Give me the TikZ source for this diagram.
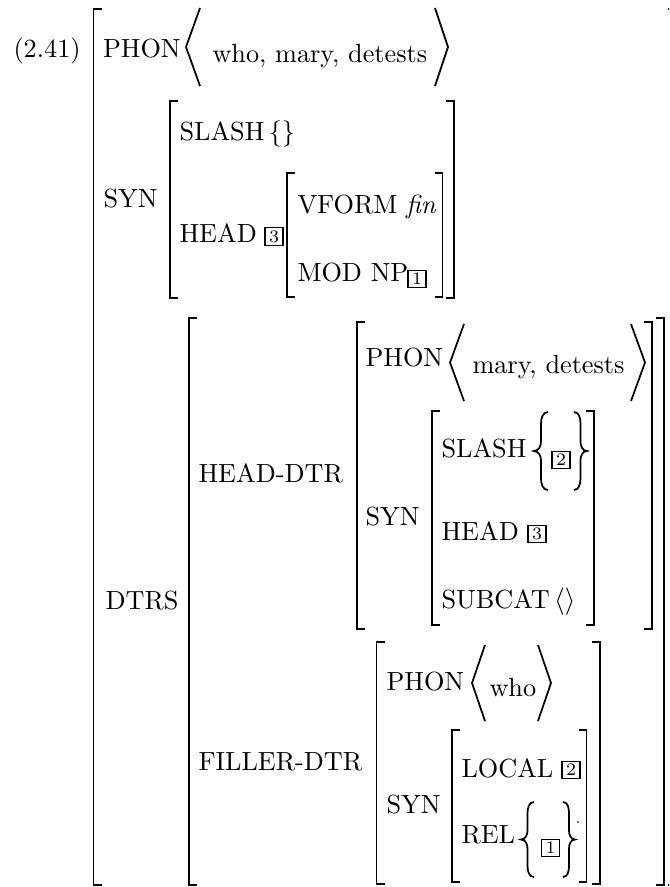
\documentclass[tikz,border=0pt]{standalone}
\usetikzlibrary{calc}
\newcommand\AvmL[3]{\draw[delim] ({#1+8},#2) -- (#1,#2) -- (#1,#3) -- ({#1+8},#3);}
\newcommand\AvmR[3]{\draw[delim] ({#1-8},#2) -- (#1,#2) -- (#1,#3) -- ({#1-8},#3);}
\newcommand\AngL[4]{\draw[delim] (#2,#3) -- (#1,{(#3+#4)/2}) -- (#2,#4);}
\newcommand\AngR[4]{\draw[delim] (#1,#3) -- (#2,{(#3+#4)/2}) -- (#1,#4);}
\newcommand\BrVals[4]{%
  \pgfmathsetmacro\bxc{(#1+#2)/2}%
  \pgfmathsetmacro\bym{(#3+#4)/2}%
  \pgfmathsetmacro\byA{#3+(#4-#3)*0.15}%
  \pgfmathsetmacro\byB{(#3+#4)/2-(#4-#3)*0.12}%
  \pgfmathsetmacro\byC{(#3+#4)/2+(#4-#3)*0.12}%
  \pgfmathsetmacro\byD{#4-(#4-#3)*0.15}}
% left brace: xl xr top bottom
\newcommand\BrL[4]{\BrVals{#1}{#2}{#3}{#4}\draw[delim]
  (#2,#3) to[out=180,in=90] (\bxc,\byA) -- (\bxc,\byB)
  to[out=-90,in=0] (#1,\bym)
  to[out=0,in=90] (\bxc,\byC) -- (\bxc,\byD)
  to[out=-90,in=180] (#2,#4);}
\newcommand\BrR[4]{\BrVals{#1}{#2}{#3}{#4}\draw[delim]
  (#1,#3) to[out=0,in=90] (\bxc,\byA) -- (\bxc,\byB)
  to[out=-90,in=180] (#2,\bym)
  to[out=180,in=90] (\bxc,\byC) -- (\bxc,\byD)
  to[out=-90,in=0] (#1,#4);}
\begin{document}
\begin{tikzpicture}[x=0.4pt,y=-0.4pt,
  delim/.style={line width=0.7pt},
  lab/.style={anchor=base west,inner sep=0pt,font=\fontsize{10.5}{12.6}\selectfont},
  tag/.style={draw,line width=0.45pt,inner sep=0pt,minimum width=7.2pt,minimum height=7pt,font=\fontsize{7}{8}\selectfont}]
\useasboundingbox (0,0) rectangle (669,887);
\clip (0,0) rectangle (669,887);
% outer AVM
\AvmL{93.5}{9}{885}
\AvmR{676}{9}{885}
\node[lab] (n241) at (13,57) {(2.41)};
% PHON
\node[lab] (phonA) at (102.5,57) {PHON};
\AngL{186}{200}{8}{86}
\node[lab] (phonAv) at (212,62) {who,\ mary,\ detests};
\AngR{435}{448}{8}{86}
% SYN
\node[lab] (synA) at (103,207) {SYN};
\AvmL{170}{101}{298}
\AvmR{454}{101}{298}
\node[lab] (slashA) at (179,140) {SLASH\,\{\}};
\node[lab] (headA) at (179,242) {HEAD};
\node[tag] (bx3a) at (274,236.5) {3};
\AvmL{287}{173}{297}
\AvmR{442.5}{173}{297}
\node[lab] (vformA) at (297,213) {VFORM \textit{fin}};
\node[lab] (modA) at (297,281) {MOD NP};
\node[tag] (bx1a) at (417,279) {1};
% DTRS
\node[lab] (dtrs) at (105,609) {DTRS};
\AvmL{189}{318}{885}
\AvmR{664}{318}{885}
% HEAD-DTR
\node[lab] (hdtr) at (198,482) {HEAD-DTR};
\AvmL{357}{322}{629}
\AvmR{652}{322}{629}
\node[lab] (phonB) at (365,366) {PHON};
\AngL{450}{464}{324}{401}
\node[lab] (phonBv) at (472,373) {mary,\ detests};
\AngR{631}{645}{324}{401}
\node[lab] (synB) at (365,525) {SYN};
\AvmL{432}{411}{625}
\AvmR{594}{411}{625}
\node[lab] (slashB) at (441,457) {SLASH};
\BrL{534}{548}{412}{490}
\node[tag] (bx2b) at (561,460) {2};
\BrR{574}{587}{412}{490}
\node[lab] (headB) at (441,540) {HEAD};
\node[tag] (bx3b) at (537,534) {3};
\node[lab] (subcatB) at (441,608) {SUBCAT\,$\langle\rangle$};
% FILLER-DTR
\node[lab] (fdtr) at (198,770) {FILLER-DTR};
\AvmL{376.5}{642}{884}
\AvmR{600}{642}{884}
\node[lab] (phonC) at (386,690) {PHON};
\AngL{472}{485}{645}{721}
\node[lab] (phonCv) at (489,696) {who};
\AngR{538}{551}{645}{721}
\node[lab] (synC) at (386,813) {SYN};
\AvmL{452}{730}{882}
\AvmR{586.5}{730}{882}
\node[lab] (localC) at (461,777) {LOCAL};
\node[tag] (bx2c) at (571,770) {2};
\node[lab] (relC) at (461,843) {REL};
\BrL{521}{534}{802}{877}
\node[tag] (bx1c) at (550.5,848) {1};
\BrR{563}{575}{802}{877}
\fill (578,822) circle (0.9);
\end{tikzpicture}
\end{document}
